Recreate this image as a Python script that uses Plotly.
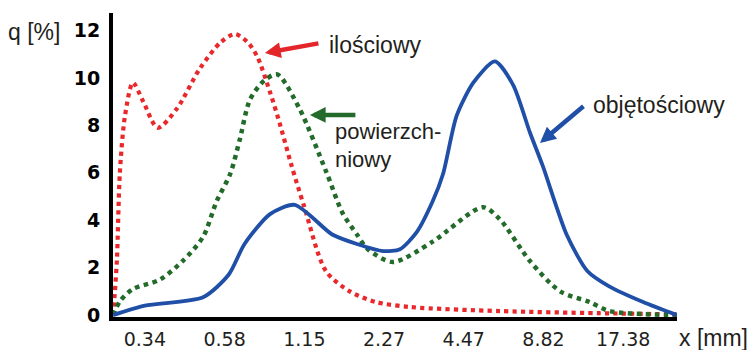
import plotly.graph_objects as go

# Sieve sizes shown under the axis (evenly spaced classes)
tick_labels = ["0.34", "0.58", "1.15", "2.27", "4.47", "8.82", "17.38"]
tick_pos = list(range(len(tick_labels)))
y_ticks = [0, 2, 4, 6, 8, 10, 12]

# Number-based distribution (ilościowy); x in class-position units
x_num = [-0.40, -0.376, -0.35, -0.314, -0.25, -0.15, -0.02, 0.16, 0.40, 0.69, 0.95,
         1.13, 1.29, 1.41, 1.57, 1.69, 1.84, 2.0, 2.27, 2.57, 2.9, 3.33, 4.45, 5.7, 6.675]
q_num = [0.0, 1.0, 2.4, 6.0, 8.4, 9.8, 9.0, 7.9, 8.7, 10.4, 11.5,
         11.85, 11.5, 10.9, 9.4, 8.1, 6.3, 4.56, 1.86, 1.0, 0.55, 0.34, 0.17, 0.08, 0.03]

# Surface-based distribution (powierzchniowy)
x_surf = [-0.40, -0.31, -0.15, 0.19, 0.48, 0.73, 0.90, 1.07, 1.19, 1.32, 1.50, 1.66,
          1.94, 2.28, 2.48, 2.66, 2.79, 3.11, 3.61, 4.24, 4.45, 4.83, 5.21, 5.58, 5.83, 6.675]
q_surf = [0.0, 0.6, 1.1, 1.5, 2.3, 3.3, 4.8, 5.95, 7.4, 9.1, 9.9, 10.15,
          8.7, 6.0, 4.3, 3.4, 2.8, 2.24, 3.1, 4.55, 4.05, 2.28, 1.0, 0.55, 0.17, 0.0]

# Volume-based distribution (objętościowy)
x_vol = [-0.40, 0.0, 0.73, 1.05, 1.25, 1.57, 1.88, 2.35, 2.66, 2.99, 3.2, 3.41, 3.61,
         3.74, 3.91, 4.12, 4.39, 4.62, 4.83, 4.99, 5.29, 5.55, 5.83, 6.25, 6.675]
q_vol = [0.0, 0.4, 0.75, 1.7, 3.0, 4.26, 4.65, 3.4, 3.0, 2.7, 2.78, 3.5, 4.8,
         5.95, 8.4, 9.8, 10.7, 9.7, 7.7, 6.3, 3.4, 1.86, 1.2, 0.55, 0.0]

RED = "#e8282b"
GREEN = "#236b2a"
BLUE = "#1f4fa6"
TEXT = "#231f20"
LABEL_FONT = dict(family="Liberation Sans, Arial, sans-serif", size=23, color=TEXT)
WRAP_FONT = dict(family="Liberation Sans, Arial, sans-serif", size=22, color=TEXT)

fig = go.Figure()
fig.add_trace(go.Scatter(x=x_num, y=q_num, mode="lines",
                         line=dict(color=RED, width=4.2, dash="dot", shape="spline", smoothing=0.8)))
fig.add_trace(go.Scatter(x=x_surf, y=q_surf, mode="lines",
                         line=dict(color=GREEN, width=4.5, dash="dot", shape="spline", smoothing=0.8)))
fig.add_trace(go.Scatter(x=x_vol, y=q_vol, mode="lines",
                         line=dict(color=BLUE, width=3.8, shape="spline", smoothing=0.7)))

annotations = [
    # curve labels
    dict(x=2.28, y=11.4, text="ilościowy", xanchor="left", yanchor="middle", font=LABEL_FONT),
    dict(x=2.36, y=7.74, text="powierzch-", xanchor="left", yanchor="middle", font=WRAP_FONT),
    dict(x=2.36, y=6.56, text="niowy", xanchor="left", yanchor="middle", font=WRAP_FONT),
    dict(x=5.59, y=8.86, text="objętościowy", xanchor="left", yanchor="middle", font=LABEL_FONT),
]
for a in annotations:
    a.update(xref="x", yref="y", showarrow=False)

# arrows pointing at each curve
arrows = [
    dict(x=1.506, y=11.05, ax=55, ay=-10, arrowcolor="#e3262a"),
    dict(x=2.07, y=8.44, ax=47, ay=0, arrowcolor=GREEN),
    dict(x=4.956, y=7.26, ax=45, ay=-38, arrowcolor=BLUE),
]
for a in arrows:
    a.update(xref="x", yref="y", text="", showarrow=True, arrowhead=2,
             arrowwidth=4.5, arrowsize=0.7, standoff=0)
annotations += arrows

# axis titles
annotations += [
    dict(x=-0.19, y=0.9375, xref="paper", yref="paper", text="q [%]",
         xanchor="left", yanchor="middle", showarrow=False, font=LABEL_FONT),
    dict(x=1.0, y=-0.069, xref="paper", yref="paper", text="x [mm]",
         xanchor="left", yanchor="middle", showarrow=False, font=LABEL_FONT),
]

fig.update_layout(
    width=749, height=350,
    margin=dict(l=113, r=72, t=13, b=33),
    paper_bgcolor="white", plot_bgcolor="white",
    showlegend=False,
    annotations=annotations,
    xaxis=dict(range=[-0.40, 6.675], tickvals=tick_pos, ticktext=tick_labels,
               showgrid=False, zeroline=False, showline=True, linecolor="black",
               linewidth=4, ticks="", ticklabelstandoff=2, automargin=False,
               tickfont=dict(family="DejaVu Sans, Verdana, sans-serif", size=19, color=TEXT)),
    yaxis=dict(range=[-0.08, 12.74], tickvals=y_ticks,
               showgrid=False, zeroline=False, showline=True, linecolor="black",
               linewidth=4, ticks="", ticklabelstandoff=5, automargin=False,
               tickfont=dict(family="DejaVu Sans, Verdana, sans-serif", size=19,
                             color="black", weight="bold")),
)

fig.write_html("out.html")
